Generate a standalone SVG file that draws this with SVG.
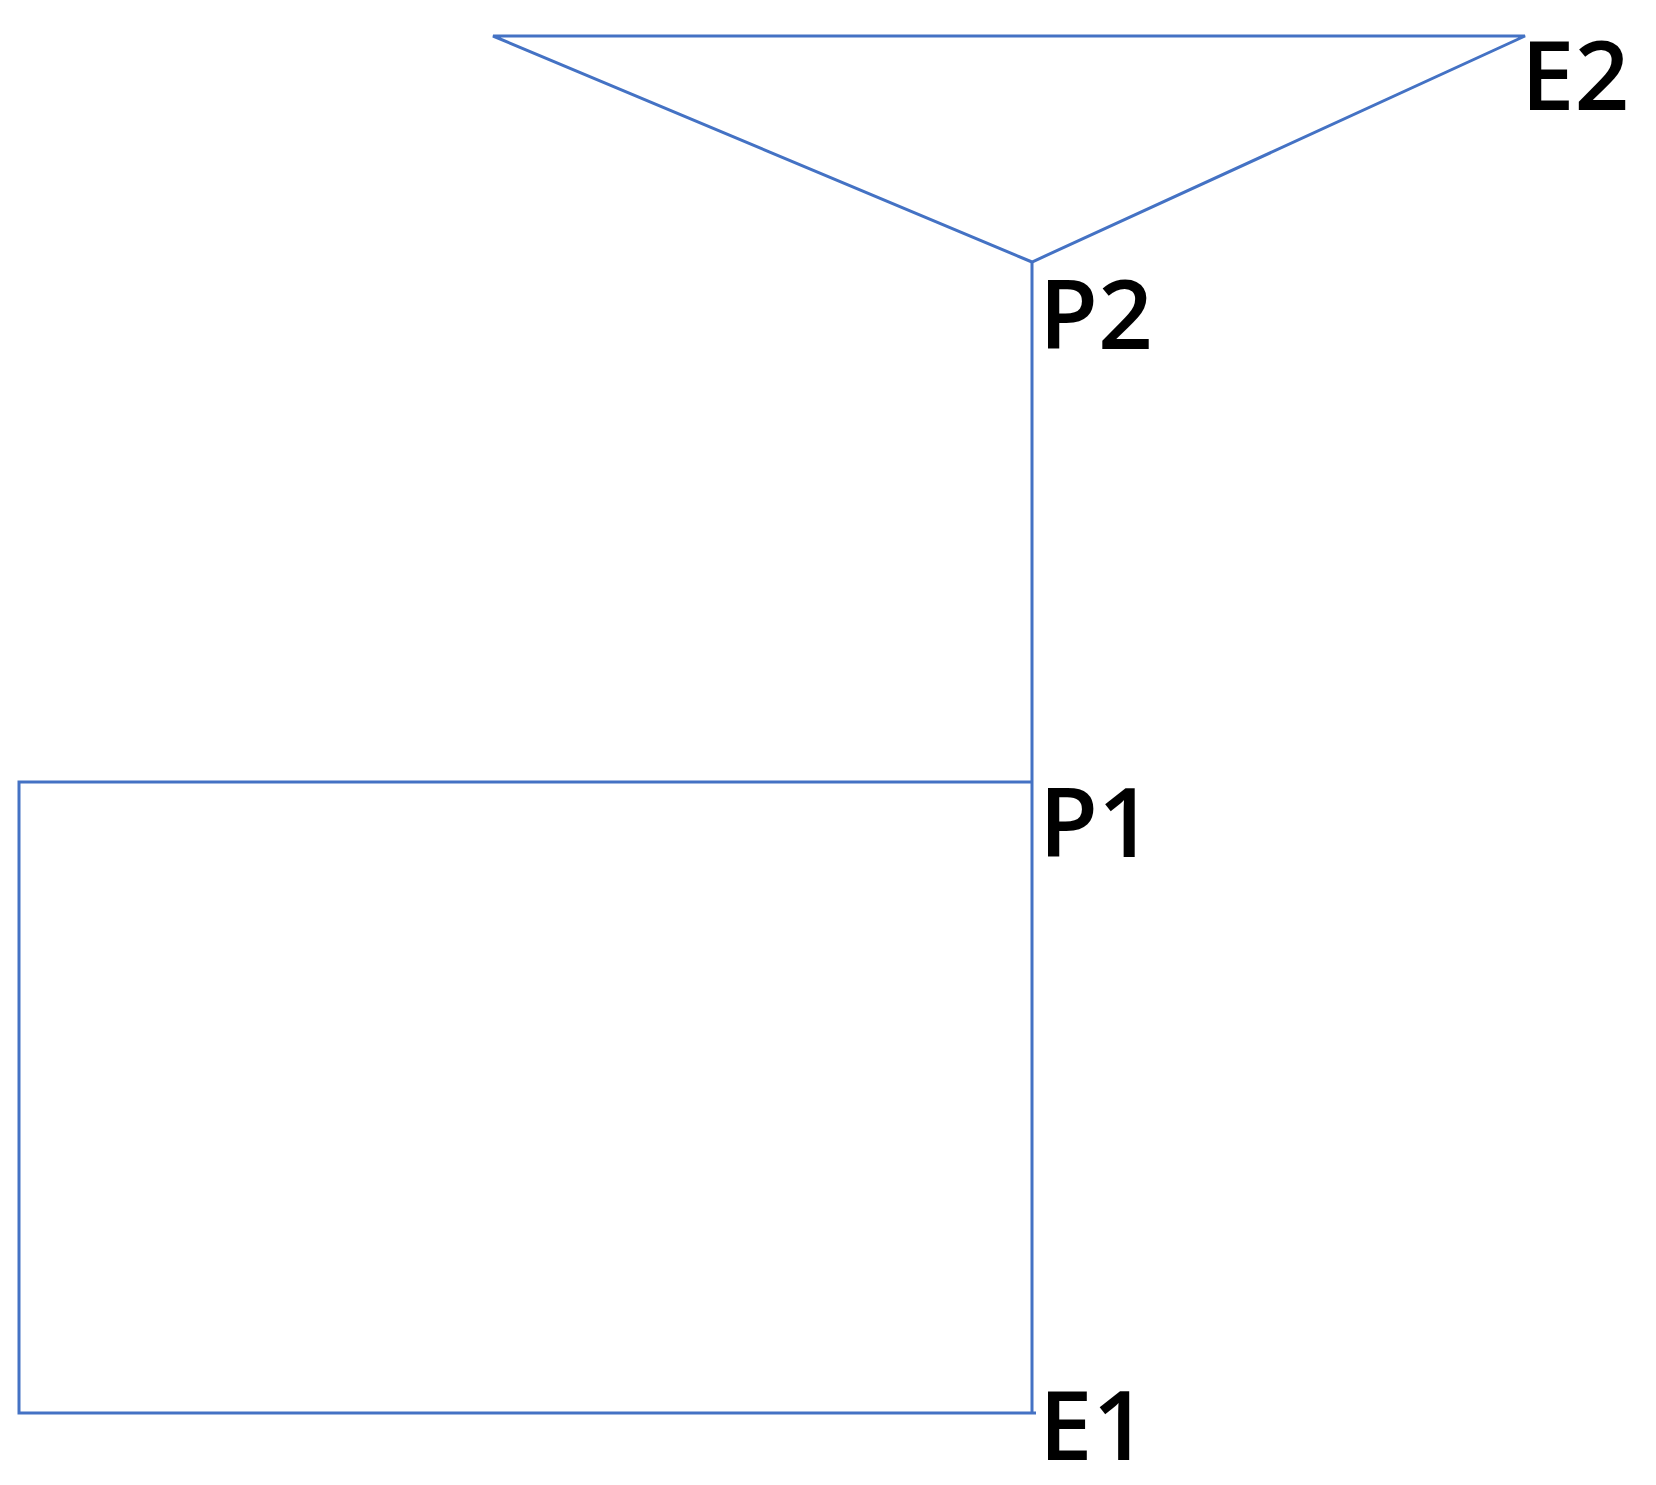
<svg xmlns="http://www.w3.org/2000/svg" width="1656" height="1485" viewBox="0 0 1656 1485">
<style>
.ln{fill:none;stroke:#4472C4;stroke-width:3;stroke-linejoin:miter;stroke-linecap:butt}
.lbl{font-family:"Open Sans","Liberation Sans",sans-serif;font-size:96px;font-weight:600;fill:#000}
</style>
<rect width="1656" height="1485" fill="#fff"/>
<g id="connectors">
<path class="ln" d="M493,36 L1525,36 L1032,262 Z"/>
<path class="ln" d="M1032,262 L1032,1413"/>
<path class="ln" d="M1032,782 L19,782 L19,1413 L1036,1413"/>
</g>
<g id="E2"><text class="lbl" x="1521" y="110">E2</text></g>
<g id="P2"><text class="lbl" x="1039" y="349">P2</text></g>
<g id="P1"><text class="lbl" x="1039" y="857">P1</text></g>
<g id="E1"><text class="lbl" x="1039" y="1460">E1</text></g>
</svg>
